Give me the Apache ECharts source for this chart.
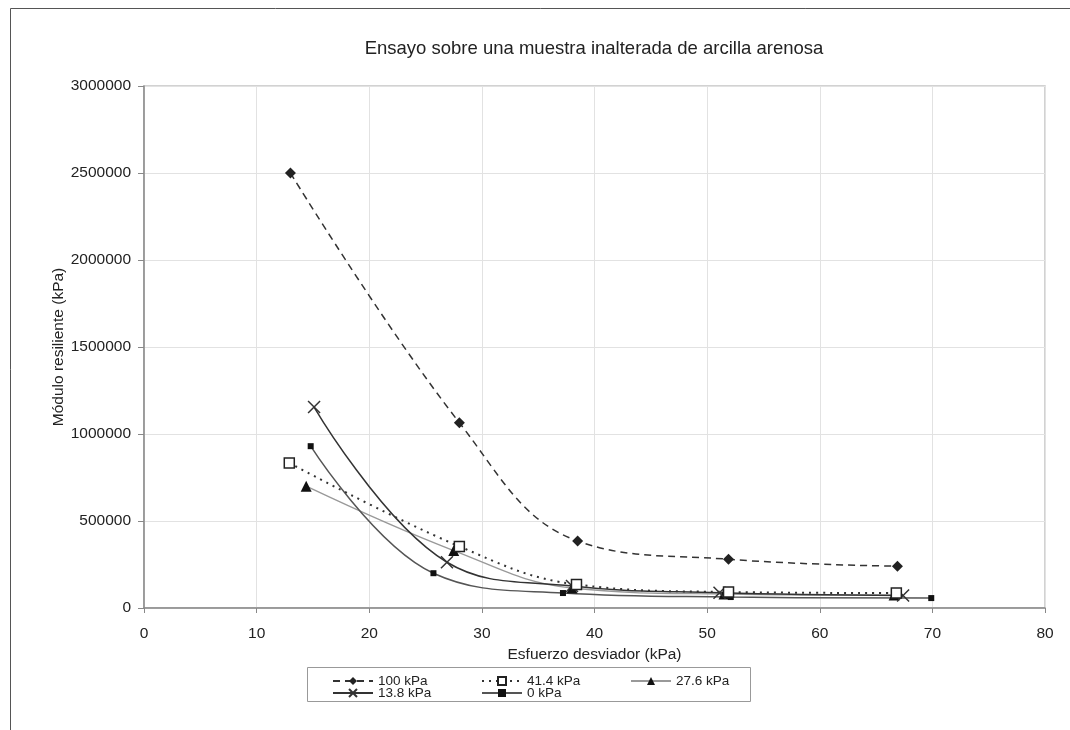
<!DOCTYPE html>
<html><head><meta charset="utf-8">
<script src="https://cdn.jsdelivr.net/npm/echarts@6/dist/echarts.min.js"></script>
<style>html,body{margin:0;padding:0;background:#fff}#c{width:1070px;height:730px}</style>
</head><body><div id="c"></div>
<script>
var seriesNames = ['100 kPa', '41.4 kPa', '27.6 kPa', '13.8 kPa', '0 kPa'];
var x100 = [13.0, 28.0, 38.5, 51.9, 66.9];
var y100 = [2500000, 1065000, 385000, 280000, 240000];
var x41 = [12.9, 28.0, 38.4, 51.9, 66.8];
var y41 = [834000, 354000, 135000, 92000, 86000];
var x27 = [14.4, 27.5, 38.0, 51.5, 66.6];
var y27 = [700000, 330000, 115000, 80000, 74000];
var x13 = [15.1, 26.9, 38.0, 51.1, 67.4];
var y13 = [1155000, 263000, 126000, 88000, 72000];
var x0 = [14.8, 25.7, 37.2, 52.1, 69.9];
var y0 = [930000, 200000, 86000, 63000, 57000];
var xTicks = [0, 10, 20, 30, 40, 50, 60, 70, 80];
var yTicks = [0, 500000, 1000000, 1500000, 2000000, 2500000, 3000000];

function pairs(xs, ys) { return xs.map(function (x, i) { return [x, ys[i]]; }); }

var FONT = '"Liberation Sans", Arial, sans-serif';
var chart = echarts.init(document.getElementById('c'), null, { renderer: 'canvas' });
var crossPath = 'path://M0,0L10,10M10,0L0,10';

var legendText = { fontFamily: FONT, fontSize: 13.5, color: '#222', width: 98, lineHeight: 12 };

chart.setOption({
  animation: false,
  backgroundColor: '#fff',
  title: {
    text: 'Ensayo sobre una muestra inalterada de arcilla arenosa',
    left: 589, top: 34, textAlign: 'center',
    textStyle: { fontFamily: FONT, fontSize: 18.5, fontWeight: 'normal', color: '#222' }
  },
  graphic: [
    { type: 'rect', shape: { x: 10.5, y: 8.5, width: 1070, height: 740 }, style: { fill: 'none', stroke: '#555', lineWidth: 1 }, silent: true },
    { type: 'rect', shape: { x: 307.5, y: 667.5, width: 443, height: 34 }, style: { fill: 'none', stroke: '#999', lineWidth: 1 }, silent: true }
  ],
  legend: [
    { data: seriesNames.slice(0, 3), left: 332, top: 674, padding: 0, itemGap: 5, itemWidth: 40, itemHeight: 10, textStyle: legendText },
    { data: seriesNames.slice(3), left: 332, top: 686, padding: 0, itemGap: 5, itemWidth: 40, itemHeight: 10, textStyle: legendText }
  ],
  grid: { left: 144, right: 25, top: 86, bottom: 122, containLabel: false, show: true, borderColor: '#c4c4c4', borderWidth: 1.5 },
  xAxis: {
    type: 'value', min: xTicks[0], max: xTicks[xTicks.length - 1], interval: 10,
    name: 'Esfuerzo desviador (kPa)', nameLocation: 'middle', nameGap: 39, nameMoveOverlap: false,
    nameTextStyle: { fontFamily: FONT, fontSize: 15.5, color: '#222' },
    axisLine: { lineStyle: { color: '#888', width: 1.5 } },
    axisTick: { show: true, length: 5, lineStyle: { color: '#888' } },
    axisLabel: { fontFamily: FONT, fontSize: 15.5, color: '#222', margin: 18 },
    splitLine: { show: true, lineStyle: { color: '#e2e2e2', width: 1 } }
  },
  yAxis: {
    type: 'value', min: yTicks[0], max: yTicks[yTicks.length - 1], interval: 500000,
    name: 'Módulo resiliente (kPa)', nameLocation: 'middle', nameGap: 77, nameMoveOverlap: false,
    nameTextStyle: { fontFamily: FONT, fontSize: 15.5, color: '#222' },
    axisLine: { show: true, lineStyle: { color: '#888', width: 1.5 } },
    axisTick: { show: true, length: 6, lineStyle: { color: '#888' } },
    axisLabel: { fontFamily: FONT, fontSize: 15.5, color: '#222', margin: 13, formatter: function (v) { return String(v); } },
    splitLine: { show: true, lineStyle: { color: '#e2e2e2', width: 1 } }
  },
  series: [
    { name: seriesNames[0], type: 'line', data: pairs(x100, y100), smooth: 0.4,
      lineStyle: { color: '#333', width: 1.5, type: [7, 5] },
      symbol: 'diamond', symbolSize: 11, itemStyle: { color: '#222', borderWidth: 0 }, z: 5 },
    { name: seriesNames[1], type: 'line', data: pairs(x41, y41), smooth: 0.4,
      lineStyle: { color: '#333', width: 2, type: [2, 5] },
      symbol: 'rect', symbolSize: 10, itemStyle: { color: '#fff', borderColor: '#222', borderWidth: 1.5 }, z: 4 },
    { name: seriesNames[2], type: 'line', data: pairs(x27, y27), smooth: 0.4,
      lineStyle: { color: '#999', width: 1.3 },
      symbol: 'triangle', symbolSize: 11, itemStyle: { color: '#111', borderWidth: 0 }, z: 3 },
    { name: seriesNames[3], type: 'line', data: pairs(x13, y13), smooth: 0.4,
      lineStyle: { color: '#333', width: 1.5 },
      symbol: crossPath, symbolSize: 12, itemStyle: { color: 'none', borderColor: '#333', borderWidth: 1.5 }, z: 3 },
    { name: seriesNames[4], type: 'line', data: pairs(x0, y0), smooth: 0.4,
      lineStyle: { color: '#555', width: 1.5 },
      symbol: 'rect', symbolSize: 6, itemStyle: { color: '#111', borderWidth: 0 }, z: 3 }
  ]
});
</script></body></html>
